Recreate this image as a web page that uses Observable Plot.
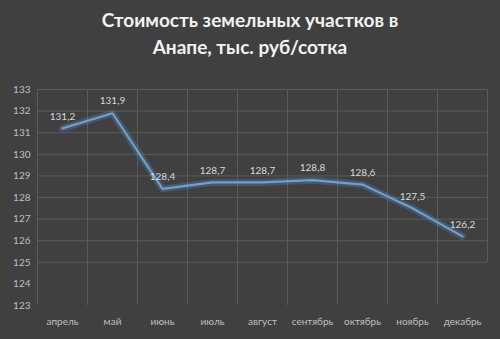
<!DOCTYPE html>
<html><head><meta charset="utf-8">
<script src="https://cdn.jsdelivr.net/npm/d3@7"></script>
<script src="https://cdn.jsdelivr.net/npm/@observablehq/plot@0.6"></script>
<style>
html,body{margin:0;padding:0;background:#404040;}
#wrap{width:500px;height:339px;background:#404040;overflow:hidden;}
#title{height:65px;box-sizing:border-box;padding-top:6px;text-align:center;color:#f2f2f2;font-family:Lato,"Open Sans",sans-serif;font-weight:bold;font-size:19px;line-height:27px;}
</style></head>
<body><div id="wrap"><div id="title">Стоимость земельных участков в<br>Анапе, тыс. руб/сотка</div><div id="chart"></div></div>
<script>
const months = ["апрель","май","июнь","июль","август","сентябрь","октябрь","ноябрь","декабрь"];
const values = [131.2, 131.9, 128.4, 128.7, 128.7, 128.8, 128.6, 127.5, 126.2];
const yTicks = [123,124,125,126,127,128,129,130,131,132,133];
const gridY = [125,126,127,128,129,130,131,132,133];

const data = months.map((m,i)=>({month:m, value:values[i]}));
const fmt = v => v.toFixed(1).replace(".", ",");

const plot = Plot.plot({
  width: 500, height: 274,
  marginTop: 24, marginBottom: 34, marginLeft: 37, marginRight: 13,
  style: {background:"#404040", color:"#bfbfbf", fontFamily:"Lato,'Open Sans',sans-serif", fontSize:"10px"},
  x: {type:"band", domain: months, padding:0, label:null, tickSize:0, tickPadding:12},
  y: {domain:[123,133], ticks: yTicks, label:null, tickSize:0, tickPadding:7},
  marks: [
    Plot.ruleY(gridY, {stroke:"#5a5a5a", strokeWidth:1}),
    Plot.tickX(months, {x: d=>d, y1: 125, y2: 133, stroke:"#5a5a5a", strokeWidth:1, dx: -25}),
    Plot.ruleX([months[months.length-1]], {y1:125, y2:133, stroke:"#5a5a5a", dx: 25}),
    Plot.line(data, {x:"month", y:"value", stroke:"#5b9bd5", strokeWidth:7, strokeOpacity:0.25}),
    Plot.line(data, {x:"month", y:"value", stroke:"#6a9fd8", strokeWidth:2.2}),
    Plot.text(data, {x:"month", y:"value", text: d=>fmt(d.value), dy:-12, fill:"#d9d9d9", fontSize:10})
  ]
});
document.getElementById("chart").appendChild(plot);
</script></body></html>
